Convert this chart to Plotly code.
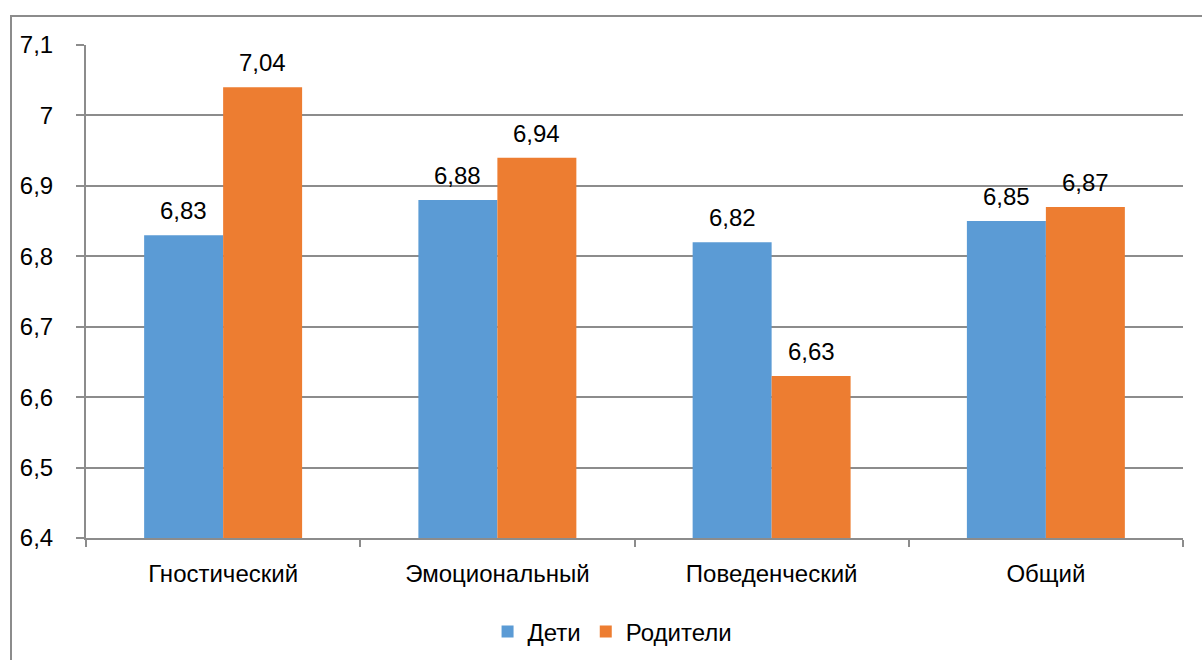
import plotly.graph_objects as go

categories = ["Гностический", "Эмоциональный", "Поведенческий", "Общий"]
deti = [6.83, 6.88, 6.82, 6.85]
roditeli = [7.04, 6.94, 6.63, 6.87]
y_ticks = [6.4, 6.5, 6.6, 6.7, 6.8, 6.9, 7.0, 7.1]

W, H = 1202, 660
L, R, T, B = 86, 19, 45, 122
pw, ph = W - L - R, H - T - B

FONT = "Liberation Sans, Arial, sans-serif"
FS = 24
GRID = "#8c8c8c"
BLUE = "#5b9bd5"
ORANGE = "#ed7d31"
BAR_PX = 79  # bar width in pixels, used to centre value labels over each bar

fig = go.Figure()
series = [("Дети", deti, BLUE, -1), ("Родители", roditeli, ORANGE, 1)]
for name, vals, color, side in series:
    fig.add_trace(go.Bar(
        x=categories, y=vals, name=name,
        marker=dict(color=color, line=dict(width=0)),
    ))
    for cat, v in zip(categories, vals):
        fig.add_annotation(
            x=cat, y=v, xref="x", yref="y",
            text=f"{v:.2f}".replace(".", ","), showarrow=False,
            xshift=side * BAR_PX / 2, yshift=9, yanchor="bottom",
            font=dict(family=FONT, size=FS, color="#000000"),
        )

# outer chart frame (extends past right and bottom edges)
def px_x(p):
    return (p - L) / pw

def px_y(p):
    return (H - B - p) / ph

fig.add_shape(type="rect", xref="paper", yref="paper",
              x0=px_x(11), x1=px_x(1215), y0=px_y(675), y1=px_y(16),
              line=dict(color=GRID, width=2), fillcolor="rgba(0,0,0,0)", layer="below")

fig.update_layout(
    width=W, height=H,
    margin=dict(l=L, r=R, t=T, b=B, pad=0, autoexpand=False),
    paper_bgcolor="white", plot_bgcolor="white",
    separators=", ",
    barmode="group", bargap=0.424, bargroupgap=0,
    font=dict(family=FONT, size=FS, color="#000000"),
    showlegend=True,
    legend=dict(orientation="h", x=0.48, xanchor="center", y=px_y(632), yanchor="middle",
                font=dict(family=FONT, size=FS), itemwidth=30, traceorder="normal"),
)
fig.update_xaxes(
    type="category", showgrid=False, showline=True, linecolor=GRID, linewidth=2,
    ticks="outside", tickson="boundaries", ticklen=7, tickcolor=GRID, tickwidth=2,
    tickfont=dict(family=FONT, size=FS), ticklabelstandoff=13,
)
fig.update_yaxes(
    range=[6.4, 7.1], tickvals=y_ticks, tickformat="~r",
    showgrid=True, gridcolor=GRID, gridwidth=2,
    showline=True, linecolor=GRID, linewidth=2,
    ticks="outside", ticklen=8, tickcolor=GRID, tickwidth=2,
    tickfont=dict(family=FONT, size=FS), ticklabelstandoff=18, zeroline=False,
)

fig.write_html("out.html")
